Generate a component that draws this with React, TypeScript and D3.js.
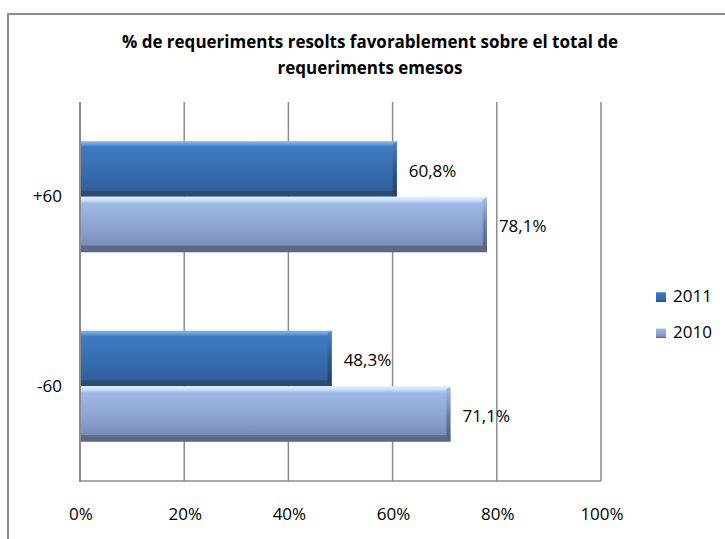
import React from "react";
import * as d3 from "d3";

const categories = ["+60", "-60"];
const seriesNames = ["2011", "2010"];
const values2011 = [60.8, 48.3];
const values2010 = [78.1, 71.1];
const valueLabels2011 = ["60,8%", "48,3%"];
const valueLabels2010 = ["78,1%", "71,1%"];
const xTicks = [0, 20, 40, 60, 80, 100];
const titleLines = [
  "% de requeriments resolts favorablement sobre el total de",
  "requeriments emesos",
];

const W = 725;
const H = 539;
const plot = { left: 80, right: 601, top: 102, bottom: 481 };
const FONT = "'Open Sans', 'Liberation Sans', sans-serif";

const seriesValues: Record<string, number[]> = { "2011": values2011, "2010": values2010 };
const seriesLabels: Record<string, string[]> = { "2011": valueLabels2011, "2010": valueLabels2010 };

export default function App() {
  const x = d3.scaleLinear().domain([0, 100]).range([plot.left, plot.right]);
  const y = d3
    .scaleBand<string>()
    .domain(categories)
    .range([plot.top, plot.bottom])
    .paddingInner(0.414)
    .paddingOuter(0.207);
  const ys = d3.scaleBand<string>().domain(seriesNames).range([0, y.bandwidth()]);

  const grad = (id: string) => `url(#${id})`;

  return (
    <svg width={W} height={H} style={{ position: "absolute", left: 0, top: 0 }}>
      <defs>
        <linearGradient id="g2011" x1="0" y1="0" x2="0" y2="1">
          <stop offset="0" stopColor="#7db3ef" />
          <stop offset="0.05" stopColor="#6aa3e3" />
          <stop offset="0.1" stopColor="#3f7cc4" />
          <stop offset="0.5" stopColor="#386eb0" />
          <stop offset="0.88" stopColor="#31609c" />
          <stop offset="0.9" stopColor="#2d4d75" />
          <stop offset="1" stopColor="#2d4a70" />
        </linearGradient>
        <linearGradient id="g2010" x1="0" y1="0" x2="0" y2="1">
          <stop offset="0" stopColor="#dff1ff" />
          <stop offset="0.06" stopColor="#c6e2fb" />
          <stop offset="0.12" stopColor="#9fb8e4" />
          <stop offset="0.5" stopColor="#8fa7d6" />
          <stop offset="0.87" stopColor="#7a8ebb" />
          <stop offset="0.89" stopColor="#5d6b84" />
          <stop offset="1" stopColor="#5b6880" />
        </linearGradient>
        <linearGradient id="e2011" x1="0" y1="0" x2="0" y2="1">
          <stop offset="0" stopColor="#4a82c4" />
          <stop offset="0.5" stopColor="#2b5990" />
          <stop offset="1" stopColor="#223c5f" />
        </linearGradient>
        <linearGradient id="e2010" x1="0" y1="0" x2="0" y2="1">
          <stop offset="0" stopColor="#a7bce3" />
          <stop offset="0.5" stopColor="#6c80ab" />
          <stop offset="1" stopColor="#4f5c76" />
        </linearGradient>
      </defs>

      <rect x={8} y={14} width={740} height={560} fill="#fff" stroke="#8c8c8c" strokeWidth={2} />

      {titleLines.map((t, i) => (
        <text
          key={i}
          x={370}
          y={43 + i * 26}
          textAnchor="middle"
          dominantBaseline="middle"
          fontFamily={FONT}
          fontWeight="bold"
          fontSize={17}
          fill="#000"
        >
          {t}
        </text>
      ))}

      {xTicks.slice(1).map((t) => (
        <line
          key={t}
          x1={x(t)}
          x2={x(t)}
          y1={plot.top}
          y2={plot.bottom}
          stroke="#8c8c8c"
          strokeWidth={1.5}
        />
      ))}
      <line x1={plot.left} x2={plot.right} y1={plot.bottom} y2={plot.bottom} stroke="#8c8c8c" strokeWidth={1.5} />

      {categories.map((c, ci) =>
        seriesNames.map((s) => {
          const v = seriesValues[s][ci];
          const y0 = (y(c) as number) + (ys(s) as number);
          const h = ys.bandwidth();
          const x0 = x(0);
          const x1 = x(v);
          const bev = 4;
          return (
            <g key={c + s}>
              <rect x={x0} y={y0} width={x1 - x0} height={h} fill={grad("g" + s)} />
              <polygon
                points={`${x1 - bev},${y0 + 3} ${x1},${y0} ${x1},${y0 + h} ${x1 - bev},${y0 + h - 5}`}
                fill={grad("e" + s)}
              />
              <text
                x={x1 + 12}
                y={y0 + h / 2 + 3}
                dominantBaseline="middle"
                fontFamily={FONT}
                fontSize={17}
                fill="#000"
              >
                {seriesLabels[s][ci]}
              </text>
            </g>
          );
        })
      )}

      <line x1={plot.left} x2={plot.left} y1={plot.top} y2={plot.bottom + 1} stroke="#8c8c8c" strokeWidth={2} />

      {categories.map((c) => (
        <text
          key={c}
          x={62}
          y={(y(c) as number) + y.bandwidth() / 2 + 1}
          textAnchor="end"
          dominantBaseline="middle"
          fontFamily={FONT}
          fontSize={17}
          fill="#000"
        >
          {c}
        </text>
      ))}

      {xTicks.map((t) => (
        <text
          key={t}
          x={x(t) + 1}
          y={515}
          textAnchor="middle"
          dominantBaseline="middle"
          fontFamily={FONT}
          fontSize={17}
          fill="#000"
        >
          {t + "%"}
        </text>
      ))}

      {seriesNames.map((s, i) => (
        <g key={s} transform={`translate(656, ${297 + i * 36})`}>
          <rect x={0} y={-5} width={10} height={10} fill={grad("g" + s)} />
          <text x={17} y={0} dominantBaseline="middle" fontFamily={FONT} fontSize={17} fill="#000">
            {s}
          </text>
        </g>
      ))}
    </svg>
  );
}
